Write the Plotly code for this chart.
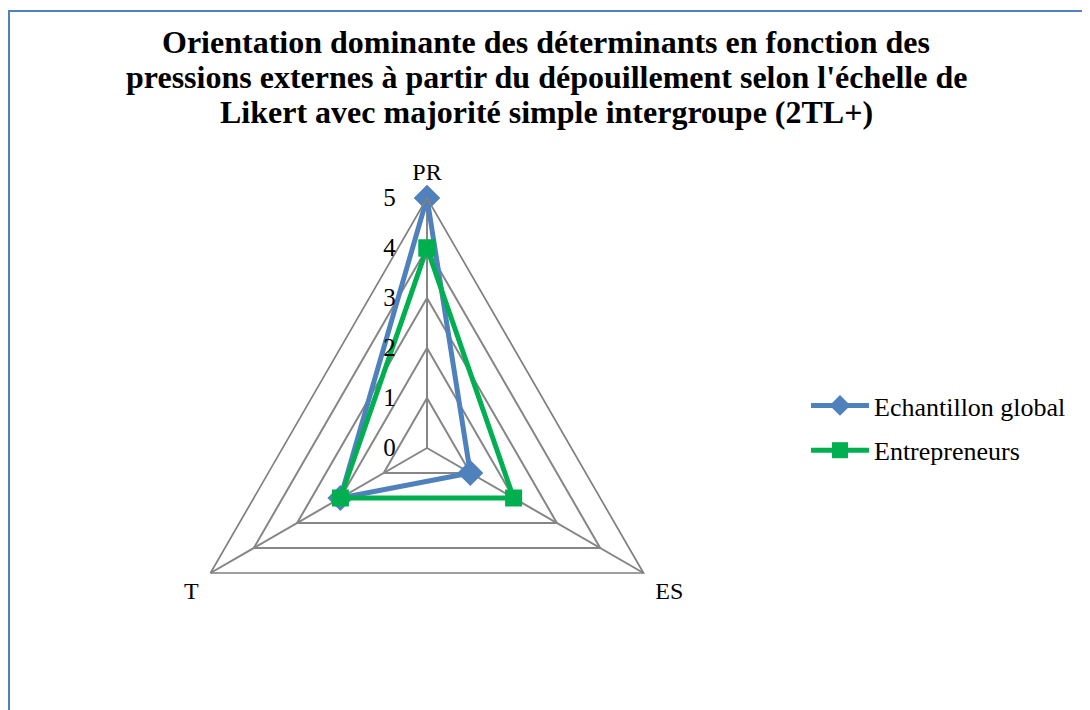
import plotly.graph_objects as go

# Axes du radar et valeurs
categories = ['PR', 'ES', 'T']
echantillon_global = [5, 1, 2]
entrepreneurs = [4, 2, 2]
radial_ticks = [0, 1, 2, 3, 4, 5]

title_lines = [
    "Orientation dominante des déterminants en fonction des",
    "pressions externes à partir du dépouillement selon l'échelle de",
    "Likert avec majorité simple intergroupe (2TL+)",
]

W, H = 1090, 710
OFF = 8  # marge par défaut du body de la page
cx, cy, rad = 427 - OFF, 448 - OFF, 250  # centre et rayon du radar en pixels
SERIF = 'Liberation Serif, Times New Roman, serif'

fig = go.Figure()

fig.add_trace(go.Scatterpolar(
    r=echantillon_global + echantillon_global[:1],
    theta=categories + categories[:1],
    mode='lines+markers',
    name='Echantillon global',
    legendgroup='a',
    line=dict(color='#4F81BD', width=5),
    marker=dict(symbol='diamond', size=20, color='#4F81BD'),
))

# tracé vert par-dessus le bleu, comme dans l'original
fig.add_trace(go.Scatterpolar(
    r=entrepreneurs + entrepreneurs[:1],
    theta=categories + categories[:1],
    mode='lines+markers',
    name='Entrepreneurs',
    legendgroup='b',
    line=dict(color='#00B050', width=5),
    marker=dict(symbol='square', size=17, color='#00B050'),
))

# titre sur trois lignes, placées une à une
annotations = []
for i, line in enumerate(title_lines):
    annotations.append(dict(
        text=line, xref='paper', yref='paper',
        x=(546 - OFF) / W, y=1 - (42 + 35 * i - OFF) / H,
        xanchor='center', yanchor='middle', showarrow=False,
        font=dict(size=32, family=SERIF, color='black', weight='bold'),
    ))

fig.update_layout(
    width=W,
    height=H,
    margin=dict(l=0, r=0, t=0, b=0),
    paper_bgcolor='white',
    font=dict(family=SERIF, color='black'),
    annotations=annotations,
    polar=dict(
        domain=dict(x=[(cx - rad) / W, (cx + rad) / W],
                    y=[(H - cy - rad) / H, (H - cy + rad) / H]),
        bgcolor='white',
        gridshape='linear',
        radialaxis=dict(
            range=[0, 5], tickvals=radial_ticks, angle=90, tickangle=90,
            showline=False, showgrid=True, gridcolor='#868686', gridwidth=1.5,
            ticks='outside', ticklen=22, tickcolor='rgba(0,0,0,0)',
            side='counterclockwise',
            tickfont=dict(size=25),
        ),
        angularaxis=dict(
            rotation=90, direction='clockwise',
            showline=True, linecolor='#808080', linewidth=1.7,
            showgrid=True, gridcolor='#868686', gridwidth=1.5,
            ticks='outside', ticklen=8, tickcolor='rgba(0,0,0,0)',
            tickfont=dict(size=24),
        ),
    ),
    legend=dict(
        x=(806 - OFF) / W, y=1 - (382 - OFF) / H, xanchor='left', yanchor='top',
        font=dict(size=26), itemwidth=58, tracegroupgap=8,
        traceorder='grouped',
    ),
    shapes=[dict(
        type='rect', xref='paper', yref='paper',
        x0=1 / W, x1=1.05, y0=-0.05, y1=1 - 3 / H,
        line=dict(color='#4F81BD', width=2),
    )],
)

fig.write_html('out.html')
